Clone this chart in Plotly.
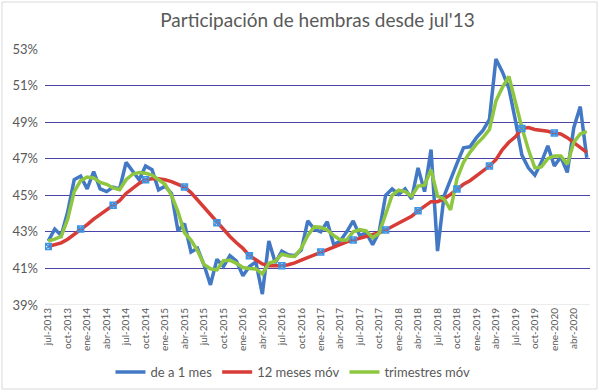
import plotly.graph_objects as go

MESES = ["ene", "feb", "mar", "abr", "may", "jun", "jul", "ago", "sep", "oct", "nov", "dic"]
months = []
for k in range(84):
    m = (6 + k) % 12
    y = 2013 + (6 + k) // 12
    months.append(f"{MESES[m]}-{y}")

tick_labels = months[::3]

de_a_1_mes = [
    42.5, 43.15, 42.8, 44.1, 45.85, 46.05, 45.35, 46.3, 45.35, 45.2, 45.45, 45.35,
    46.8, 46.3, 45.85, 46.6, 46.4, 45.3, 45.5, 45.1, 43.05, 43.45, 41.9, 42.1,
    41.2, 40.1, 41.5, 41.1, 41.7, 41.4, 40.6, 41.1, 41.35, 39.6, 42.5, 41.3,
    41.95, 41.75, 41.7, 42.0, 43.6, 43.15, 43.0, 43.55, 42.3, 42.5, 43.0, 43.6,
    42.8, 42.95, 42.3, 43.0, 45.0, 45.35, 45.05, 45.35, 44.8, 46.5, 45.2, 47.5,
    41.95, 44.95, 45.9, 46.75, 47.6, 47.65, 48.15, 48.55, 49.15, 52.45, 51.75, 50.85,
    49.1, 47.2, 46.5, 46.1, 46.8, 47.7, 46.6, 47.1, 46.25, 48.7, 49.85, 47.05,
]

doce_meses_mov = [
    42.2, 42.3, 42.4, 42.6, 42.85, 43.15, 43.4, 43.7, 43.95, 44.2, 44.45, 44.7,
    45.1, 45.4, 45.65, 45.85, 45.9, 45.9, 45.85, 45.75, 45.6, 45.45, 45.15, 44.75,
    44.35, 43.95, 43.5, 43.1, 42.75, 42.4, 42.1, 41.7, 41.45, 41.25, 41.15, 41.15,
    41.15, 41.2, 41.3, 41.45, 41.6, 41.75, 41.9, 42.05, 42.2, 42.3, 42.45, 42.55,
    42.65, 42.75, 42.85, 42.95, 43.1, 43.3, 43.47, 43.65, 43.85, 44.15, 44.4, 44.65,
    44.65, 44.8, 45.05, 45.35, 45.6, 45.8, 46.05, 46.3, 46.6, 46.95, 47.5, 47.9,
    48.2, 48.65, 48.7, 48.6, 48.55, 48.5, 48.4, 48.35, 48.15, 47.9, 47.65, 47.35,
]

trimestres_mov = [
    42.5, 42.6, 42.75, 43.7, 45.2, 45.8, 46.0, 45.95, 45.7, 45.6, 45.4, 45.3,
    45.85, 46.15, 46.25, 46.2, 46.1, 45.85, 45.6, 45.0, 44.1, 42.95, 42.55, 41.98,
    41.22, 40.98, 40.92, 41.42, 41.45, 41.28, 41.05, 41.0, 40.97, 40.7, 41.28, 41.4,
    41.78, 41.68, 41.65, 42.1, 42.8, 43.27, 43.25, 43.1, 42.8, 42.57, 42.55, 43.0,
    43.12, 43.05, 42.68, 42.92, 43.9, 45.0, 45.28, 45.2, 44.95, 45.5, 45.55, 46.4,
    44.95, 44.8, 44.2, 45.9, 46.8, 47.35, 47.8, 48.15, 48.6, 50.15, 50.9, 51.5,
    50.1, 48.7, 47.5, 46.5, 46.55, 47.0, 47.15, 47.15, 46.7, 47.9, 48.35, 48.5,
]

marker_idx = [0, 5, 10, 15, 21, 26, 31, 36, 42, 47, 52, 57, 63, 68, 73, 78]

y_ticks = [39, 41, 43, 45, 47, 49, 51, 53]

BLUE = "#4379C4"
RED = "#D83C36"
GREEN = "#8EC63F"
TXT = "#595959"

fig = go.Figure()
fig.add_trace(go.Scatter(x=months, y=de_a_1_mes, mode="lines", name="de a 1 mes",
                         line=dict(color=BLUE, width=3.5)))
fig.add_trace(go.Scatter(x=months, y=doce_meses_mov, mode="lines", name="12 meses móv",
                         line=dict(color=RED, width=3.5)))
fig.add_trace(go.Scatter(x=months, y=trimestres_mov, mode="lines", name="trimestres móv",
                         line=dict(color=GREEN, width=3.5)))
fig.add_trace(go.Scatter(x=[months[i] for i in marker_idx],
                         y=[doce_meses_mov[i] for i in marker_idx],
                         mode="markers", showlegend=False, hoverinfo="skip",
                         marker=dict(symbol="square-x-open", size=6, color="#3D95E6",
                                     line=dict(width=1.5, color="#3D95E6"))))

L, R, T, B = 45, 10, 49, 87
pw, ph = 600 - L - R, 392 - T - B

def px(xp):
    return (xp - L) / pw

def py(yp):
    return (392 - B - yp) / ph

fig.update_layout(
    width=600, height=392,
    margin=dict(l=L, r=R, t=T, b=B, autoexpand=False),
    paper_bgcolor="white", plot_bgcolor="white",
    font=dict(family="Lato, 'Open Sans', sans-serif", color=TXT),
    title=dict(text="Participación de hembras desde jul'13", x=0.5, xanchor="center",
               xref="paper", y=1 - 20 / 392, yanchor="middle", font=dict(size=19, color=TXT)),
    showlegend=True,
    legend=dict(orientation="h", x=0.455, xanchor="center",
                yref="container", y=(392 - 372) / 392, yanchor="middle",
                font=dict(size=13, color=TXT), tracegroupgap=0, itemwidth=30,
                bgcolor="rgba(0,0,0,0)"),
    xaxis=dict(type="category", range=[-0.5, len(months) - 0.5],
               tickmode="array", tickvals=tick_labels, ticktext=tick_labels,
               tickangle=-90, tickfont=dict(size=10, color=TXT),
               showgrid=False, showline=False, zeroline=False, ticks="",
               automargin=False),
    yaxis=dict(range=[39, 53], tickmode="array", tickvals=y_ticks,
               ticktext=[f"{v}%" for v in y_ticks], tickfont=dict(size=13, color=TXT),
               showgrid=True, gridcolor="#4B43A6", gridwidth=1, zeroline=False,
               showline=False, ticks="", ticklabelstandoff=6, automargin=False),
    shapes=[
        dict(type="line", xref="paper", yref="y", x0=0, x1=1, y0=39, y1=39,
             line=dict(color="#D9D9D9", width=1), layer="above"),
        dict(type="rect", xref="paper", yref="paper", x0=px(2), x1=px(597),
             y0=py(389), y1=py(2), line=dict(color="#D9D9D9", width=1),
             fillcolor="rgba(0,0,0,0)"),
    ],
)

fig.write_html("out.html", config={"displayModeBar": False},
               post_script="document.body.style.margin='0px';")
